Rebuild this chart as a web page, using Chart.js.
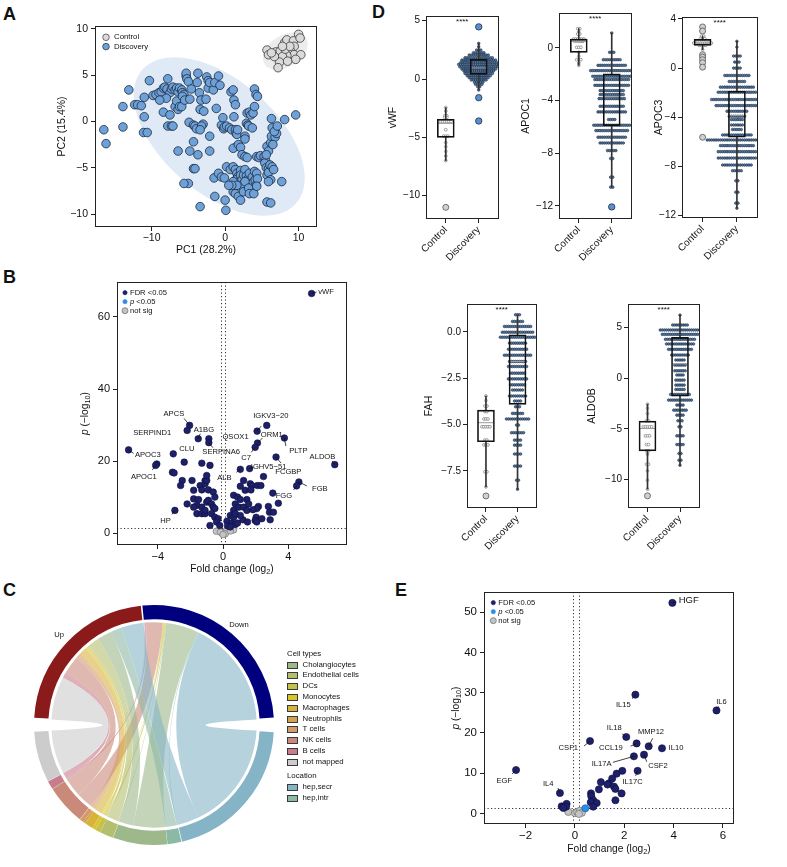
<!DOCTYPE html>
<html>
<head>
<meta charset="utf-8">
<title>Figure</title>
<script src="https://cdn.jsdelivr.net/npm/chart.js@4.4.1/dist/chart.umd.min.js"></script>
<style>
  html, body { margin: 0; padding: 0; background: #fff; }
  #fig { position: relative; width: 787px; height: 867px; overflow: hidden;
         font-family: "Liberation Sans", Arial, Helvetica, sans-serif; color: #111; }
  #fig canvas { position: absolute; }
  .panel { position: absolute; font-size: 18px; font-weight: bold; line-height: 18px; }
</style>
</head>
<body>
<div id="fig">
  <div class="panel" style="left:3px;top:5px">A</div>
  <div class="panel" style="left:3px;top:268px">B</div>
  <div class="panel" style="left:3px;top:581px">C</div>
  <div class="panel" style="left:372px;top:3px">D</div>
  <div class="panel" style="left:395px;top:581px">E</div>
  <canvas id="cA"></canvas>
  <canvas id="cB"></canvas>
  <canvas id="cC"></canvas>
  <canvas id="cD1"></canvas>
  <canvas id="cD2"></canvas>
  <canvas id="cD3"></canvas>
  <canvas id="cD4"></canvas>
  <canvas id="cD5"></canvas>
  <canvas id="cE"></canvas>
</div>
<script>
// ---------- A: PCA ----------
var ctrlPC1 = [5.7, 5.9, 6.9, 7.5, 8.1, 8.4, 9.3, 10.0, 10.2, 9.4, 8.9, 9.4, 10.3, 9.6, 8.4, 7.8, 7.4, 7.2, 8.2, 8.8, 7.8, 6.7, 6.3, 8.5];
var ctrlPC2 = [7.7, 7.2, 7.5, 7.6, 8.5, 8.8, 8.7, 9.4, 9.0, 8.1, 7.6, 7.2, 7.2, 6.7, 7.1, 7.0, 6.4, 5.8, 7.8, 8.1, 8.1, 7.0, 7.4, 6.5];
var discPC1 = [-16.5,-16.2,-13.9,-13.9,-13.1,-12.3,-11.9,-11.4,-11.0,-11.0,-11.1,-10.6,-10.3,-9.8,-9.4,-9.0,-8.7,-8.4,-8.2,-7.9,
  -7.8,-7.5,-7.3,-7.1,-6.8,-6.6,-6.4,-6.2,-5.9,-5.8,-5.6,-8.0,-8.9,-8.4,-7.5,-7.8,-7.3,-7.1,-6.8,-6.6,
  -6.4,-6.2,-5.9,-5.8,-5.5,-5.3,-5.3,-5.2,-5.0,-4.8,-4.9,-4.6,-4.3,-4.1,-3.9,-3.8,-3.7,-3.5,-3.4,-3.3,
  -3.0,-2.9,-2.6,-3.2,-3.4,-4.3,-3.7,-4.8,-6.4,-4.3,-4.1,-5.0,-5.6,-2.5,-2.3,-2.3,-2.1,-1.6,-1.4,-1.2,
  -0.9,-0.7,-0.5,-0.3,-0.2,-0.1,0.2,0.6,0.8,0.9,1.1,1.2,1.4,1.2,1.4,1.5,1.6,1.6,1.1,1.7,
  1.8,2.1,2.3,2.7,2.9,3.0,3.1,3.2,3.3,3.5,3.7,3.8,4.0,4.0,4.2,4.4,2.7,2.7,3.0,-2.1,
  -2.1,-3.4,-1.5,-1.4,-0.9,-0.5,0.0,0.1,0.2,-0.1,0.7,1.1,1.4,1.6,1.7,1.5,1.8,2.1,2.1,2.3,
  2.4,2.5,2.7,2.9,3.0,3.1,3.3,3.4,3.7,3.8,3.9,4.0,4.1,4.2,4.3,4.4,1.1,1.1,1.4,1.8,
  2.1,2.3,2.5,2.7,1.6,0.9,0.5,3.2,3.3,3.9,4.3,4.3,4.6,4.8,5.3,5.5,5.4,5.6,5.9,5.7,
  5.9,6.1,6.2,6.4,6.6,5.7,5.9,6.2,6.3,6.4,6.3,6.8,7.0,6.5,6.7,7.1,7.7,5.7,6.2,8.1,
  9.6,5.9,5.6];
var discPC2 = [-0.9,-2.4,-0.6,1.6,3.4,1.8,1.8,1.7,2.6,0.5,-1.2,-1.2,4.4,2.8,2.9,3.1,3.2,3.6,3.7,3.5,
  4.6,3.1,3.5,3.7,3.4,3.6,3.2,3.6,3.4,3.1,2.9,2.5,2.3,1.0,0.7,-0.5,-0.5,-0.5,1.6,2.2,
  1.3,1.6,1.6,2.7,2.3,4.9,5.2,4.6,4.3,2.4,-0.1,3.5,-0.4,-0.5,-0.8,4.2,5.2,3.1,1.3,2.3,
  -0.3,1.1,2.4,-0.5,-0.9,-2.2,-3.6,-3.2,-3.2,-5.1,-5.1,-6.7,-6.7,4.8,4.4,3.6,4.2,3.4,4.2,1.4,
  4.9,3.9,-0.4,0.4,-0.8,-0.6,-0.5,-0.7,3.2,-0.9,3.4,2.3,1.8,0.5,-0.9,-1.3,-1.4,-2.7,-2.9,-0.9,
  -2.5,-2.8,-3.6,-1.6,-0.2,0.9,-0.4,-0.5,1.0,0.7,-0.7,0.9,3.5,1.6,2.9,2.7,-1.9,-3.8,-3.9,-1.6,
  -3.2,-9.2,-6.1,-8.1,-5.6,-6.0,-8.5,-9.6,-4.9,-6.1,-5.2,-4.9,-5.2,-5.6,-6.0,-6.3,-6.6,-5.3,-5.8,-6.3,
  -6.8,-5.8,-5.2,-5.9,-6.3,-6.6,-5.6,-6.5,-6.0,-6.6,-7.1,-5.4,-6.3,-6.9,-5.6,-6.2,-6.5,-7.6,-7.8,-8.1,
  -8.5,-7.0,-7.6,-6.5,-6.9,-6.9,-6.9,-7.2,-7.8,-7.8,-7.0,-3.8,-3.9,-3.7,-3.8,-4.2,-4.5,-5.0,-5.1,-5.8,
  -5.5,-4.7,-6.3,-4.9,-5.2,-2.7,-3.2,-2.3,-1.6,-0.7,0.3,-1.7,-1.3,-2.5,-1.1,-0.5,-6.5,-8.7,-8.8,0.2,
  0.7,-6.5,-3.6];
var pcTicksX = [-10, 0, 10];
var pcTicksY = [-10, -5, 0, 5, 10];

// ---------- B: volcano, proteins ----------
var bFdrNames = ['vWF','ALDOB','APOC3','APOC1','APCS','SERPIND1','CLU','A1BG','QSOX1','SERPINA6','IGKV3\u221220','ORM1','C7','PLTP','FCGBP','IGHV5\u221251','ALB','FGB','FGG','HP'];
var bFdrFC = [5.43,6.85,-5.79,-4.06,-2.05,-2.2,-3.05,-1.52,-0.87,-0.87,2.09,2.11,1.97,3.76,3.25,1.63,1.06,4.65,4.51,-2.95,
  2.68,-4.13,-2.38,3.39,3.05,2.48,
  -3.1,-3.0,-2.5,-2.6,-1.9,-1.3,-0.8,-1.4,-1.1,-1.1,-1.0,-1.0,-1.8,-1.6,-1.3,-0.9,-0.6,-0.5,-1.8,-1.5,-1.3,-1.0,-0.9,-0.7,
  -0.6,-0.5,-1.6,-1.3,-1.1,-0.7,-0.5,-0.3,-0.4,-0.8,-0.2,-1.1,-2.2,-1.8,
  0.65,0.89,1.06,0.75,0.96,0.65,1.26,1.46,1.57,1.26,1.36,1.06,1.67,1.77,2.11,2.32,2.17,2.07,2.03,1.97,
  2.38,2.78,2.85,3.09,2.89,0.45,0.65,0.24,0.55,0.75,0.89,1.22,1.5,0.28,0.45,1.46,1.83,1.71,0.75,1.06,2.07];
var bFdrP = [66.5,19.0,23.1,19.2,29.9,28.5,22.0,26.2,26.2,25.1,28.3,25.0,23.8,26.4,21.1,17.9,17.7,14.2,13.1,6.3,
  29.9,18.8,19.7,8.3,11.1,15.7,
  16.9,16.7,14.6,13.2,14.6,19.4,18.8,13.2,14.6,13.7,14.6,16.0,11.9,7.7,12.0,12.0,11.4,10.0,9.5,9.3,7.2,8.6,9.1,8.1,
  7.2,6.8,5.4,5.4,5.4,5.4,4.4,4.0,3.1,2.1,2.1,6.3,8.1,7.2,
  10.5,10.0,9.3,8.1,7.2,6.3,7.2,9.3,8.1,14.6,11.9,13.0,13.7,13.2,13.2,13.2,7.4,6.8,4.4,3.5,
  4.0,7.4,5.8,5.8,3.7,4.9,4.4,3.3,2.8,2.4,2.8,3.7,3.1,2.0,1.7,6.3,6.5,12.0,5.4,4.9,3.1];
var bNsFC = [-0.41,-0.06,0.04,0.24,0.65,-0.16,0.14,0.45,0.0];
var bNsP = [0.5,0.0,0.2,0.9,0.9,0.3,-0.2,0.6,-0.4];
var volTicksB = { x: [-4, 0, 4], y: [0, 20, 40, 60] };

// ---------- C: chord ----------
var locationNames = ['hep,secr', 'hep,intr'];
var cellTypeNames = ['Cholangiocytes','Endothelial cells','DCs','Monocytes','Macrophages','Neutrophils','T cells','NK cells','B cells','not mapped'];
var chordTargets = locationNames.concat(cellTypeNames);
var upCounts   = [24, 12, 16, 12, 3, 2, 8, 2, 4, 20, 6, 47];
var downCounts = [118, 1, 35, 1, 2, 1, 0, 0, 0, 18, 2, 1];

// ---------- D: box plots ----------
var groupNames = ['Control', 'Discovery'];
// box stats: [lower whisker, q1, median, q3, upper whisker]
var vwfCtrlLevels = [-2.45,-2.75,-3.15,-3.3,-3.65,-4.35,-4.9,-5.45,-5.8,-6.2,-6.6,-7.0];
var vwfCtrlCounts = [1,1,2,2,6,1,3,1,1,1,1,1];
var vwfCtrlOut = [-11.0];
var vwfCtrlBox = [-7.0,-5.0,-3.8,-3.45,-2.45];
var vwfDiscLevels = [3.05,2.76,2.48,2.25,2.05,1.82,1.62,1.42,1.25,1.05,0.85,0.68,0.48,0.28,0.11,-0.09,-0.28,-0.46,-0.66,-0.94];
var vwfDiscCounts = [1,1,3,6,10,14,17,18,20,19,17,15,14,12,10,8,5,4,2,1];
var vwfDiscOut = [4.47,-1.6,-3.6];
var vwfDiscBox = [-0.94,0.4,0.95,1.68,3.05];
var vwfTicks = [-10,-5,0,5];

var apoc1CtrlLevels = [1.47,1.22,1.06,0.68,0.51,0.05,-0.33,-0.63,-0.89,-1.14,-1.32];
var apoc1CtrlCounts = [2,1,2,6,5,3,1,1,3,1,1];
var apoc1CtrlOut = [];
var apoc1CtrlBox = [-1.32,-0.33,0.5,0.68,1.47];
var apoc1DiscLevels = [1.14,-0.33,-0.89,-1.32,-1.72,-2.15,-2.4,-2.84,-3.24,-3.54,-3.85,-4.43,-4.86,-5.44,-5.87,-6.28,-6.78,-7.22,-7.8,-8.4,-9.82,-10.58];
var apoc1DiscCounts = [1,3,9,14,21,19,17,17,12,12,13,12,14,4,18,16,14,12,5,2,2,2];
var apoc1DiscOut = [-12.08];
var apoc1DiscBox = [-10.58,-5.9,-3.7,-1.97,1.14];
var apoc1Ticks = [-12,-8,-4,0];

var apoc3CtrlLevels = [2.61,2.39,2.04,1.85,1.5];
var apoc3CtrlCounts = [2,3,9,4,1];
var apoc3CtrlOut = [3.35,3.02,1.09,0.9,0.68,0.44,0.08,-5.63];
var apoc3CtrlBox = [1.5,1.85,2.04,2.34,2.61];
var apoc3DiscLevels = [2.18,1.71,0.98,0.49,0.0,-0.6,-1.09,-1.55,-1.96,-2.56,-3.05,-3.51,-3.92,-4.19,-4.63,-5.0,-5.44,-5.85,-6.31,-6.8,-7.32,-7.89,-8.35,-9.17,-10.1,-10.99,-11.4];
var apoc3DiscCounts = [1,1,4,3,4,12,8,16,18,24,20,10,8,6,6,5,14,28,16,18,18,14,5,2,2,2,1];
var apoc3DiscOut = [];
var apoc3DiscBox = [-11.4,-5.63,-3.85,-1.88,2.18];
var apoc3Ticks = [-12,-8,-4,0,4];

var fahCtrlLevels = [-3.46,-3.7,-4.0,-4.3,-4.7,-5.12,-5.84,-6.1,-7.55,-8.36];
var fahCtrlCounts = [1,1,2,2,3,5,2,3,2,1];
var fahCtrlOut = [-8.85];
var fahCtrlBox = [-8.36,-5.93,-4.9,-4.22,-3.46];
var fahDiscLevels = [0.92,0.56,0.29,-0.02,-0.29,-0.61,-0.94,-1.26,-1.6,-1.87,-2.23,-2.54,-2.86,-3.14,-3.46,-3.73,-4.04,-4.4,-4.7,-5.03,-5.44,-5.84,-6.11,-6.59,-7.24,-8.0,-8.49];
var fahDiscCounts = [3,6,14,16,18,9,10,14,9,10,8,10,8,6,9,4,3,6,12,2,7,4,4,4,4,2,1];
var fahDiscOut = [];
var fahDiscBox = [-8.49,-3.91,-1.6,-0.16,0.92];
var fahTicks = [-7.5,-5,-2.5,0];

var aldobCtrlLevels = [-2.57,-2.99,-3.49,-4.21,-4.8,-5.69,-6.55,-7.17,-7.5,-8.49,-9.14,-10.07,-10.95];
var aldobCtrlCounts = [1,1,1,2,5,3,2,2,1,2,1,1,1];
var aldobCtrlOut = [-11.6];
var aldobCtrlBox = [-10.95,-7.17,-4.97,-4.24,-2.57];
var aldobDiscLevels = [6.2,5.23,4.74,4.31,3.82,3.36,2.83,2.27,1.78,1.28,0.72,0.3,-0.2,-0.69,-1.12,-1.61,-2.17,-2.66,-3.16,-3.65,-4.21,-4.8,-5.69,-6.55,-7.43,-8.09,-8.59];
var aldobDiscCounts = [1,8,20,18,15,14,12,9,5,6,6,4,5,5,5,10,12,4,7,4,3,2,4,4,2,2,1];
var aldobDiscOut = [];
var aldobDiscBox = [-8.59,-1.78,1.4,4.01,6.2];
var aldobTicks = [-10,-5,0,5];

// ---------- E: volcano, cytokines ----------
var eFdrNames = ['HGF','IL6','IL15','IL18','CCL19','MMP12','IL10','CSF1','IL17A','CSF2','IL17C','EGF','IL4'];
var eFdrFC = [3.95,5.74,2.45,2.08,2.5,2.99,3.53,0.61,2.39,2.8,2.54,-2.39,-0.61,
  1.92,1.69,1.51,1.05,1.38,1.32,1.58,1.64,0.97,1.89,0.65,0.66,0.74,0.64,0.88,1.64,0.74,-0.54,-0.34,-0.36,-0.47];
var eFdrP = [52.3,25.6,29.5,19.0,17.4,16.7,16.2,18.0,14.2,14.6,10.6,10.8,5.1,
  10.6,9.9,8.7,7.8,7.5,7.2,6.7,6.1,6.0,5.0,5.0,4.3,3.3,2.8,2.6,3.3,1.7,1.8,2.4,1.7,1.4];
var ePFC = [0.42];
var ePP = [1.3];
var eNsFC = [-0.27,0.0,0.09,0.2,0.28,0.16];
var eNsP = [0.4,0.1,0.4,0.7,0.2,-0.1];
var volTicksE = { x: [-2, 0, 2, 4, 6], y: [0, 10, 20, 30, 40, 50] };

// ================= drawing =================
Chart.defaults.font.family = '"Liberation Sans", Arial, Helvetica, sans-serif';
Chart.defaults.color = '#111';
Chart.defaults.animation = false;
Chart.defaults.responsive = false;
Chart.defaults.plugins.legend.display = false;
Chart.defaults.plugins.tooltip.enabled = false;
var FAM = Chart.defaults.font.family;
var NAVY = '#1e2069';

function minus(s) { return String(s).replace('-', '\u2212'); }
function pts(xs, ys) { return xs.map(function (x, i) { return { x: x, y: ys[i] }; }); }
function sum(a) { return a.reduce(function (s, v) { return s + v; }, 0); }
function hexA(h, a) {
  var n = parseInt(h.slice(1), 16);
  return 'rgba(' + (n >> 16) + ',' + ((n >> 8) & 255) + ',' + (n & 255) + ',' + a + ')';
}

// place a canvas on the page and return padding / axis sizes that pin the plot area
function setBox(id, l, t, w, h, area) {
  var c = document.getElementById(id);
  c.width = w; c.height = h;
  c.style.left = l + 'px'; c.style.top = t + 'px';
  if (!area) return { cv: c };
  return {
    cv: c,
    padding: { top: area[1] - t, right: l + w - area[2], left: 0, bottom: 0 },
    yW: area[0] - l,
    xH: t + h - area[3]
  };
}

function axis(o) {
  return {
    type: 'linear', min: o.min, max: o.max, offset: false,
    afterBuildTicks: function (s) { s.ticks = o.ticks.map(function (v) { return { value: v }; }); },
    afterFit: function (s) {
      if (s.isHorizontal()) { s.height = o.size; s.paddingLeft = 0; s.paddingRight = 0; }
      else { s.width = o.size; s.paddingTop = 0; s.paddingBottom = 0; }
    },
    grid: { drawOnChartArea: false, offset: false, color: '#222', tickLength: o.tl || 4, tickWidth: 1 },
    border: { display: false },
    ticks: {
      font: { size: o.font || 10 }, padding: o.pad === undefined ? 3 : o.pad, autoSkip: false,
      maxRotation: o.rot || 0, minRotation: o.rot || 0,
      callback: o.fmt || function (v) { return minus(v); }
    },
    title: o.title ? { display: true, text: o.title, font: { size: 10.5 }, padding: 0, color: '#111' } : { display: false }
  };
}

function richText(ctx, parts, x, y, size, align, rot) {
  function f(st) { return (st === 'i' ? 'italic ' : '') + (st === 'sub' ? size * 0.72 : size) + 'px ' + FAM; }
  ctx.save();
  ctx.translate(x, y);
  if (rot) ctx.rotate(rot);
  ctx.textBaseline = 'middle'; ctx.textAlign = 'left'; ctx.fillStyle = '#111';
  var w = 0;
  parts.forEach(function (p) { ctx.font = f(p[1]); w += ctx.measureText(p[0]).width; });
  var cx = align === 'center' ? -w / 2 : 0;
  parts.forEach(function (p) {
    ctx.font = f(p[1]);
    ctx.fillText(p[0], cx, p[1] === 'sub' ? size * 0.32 : 0);
    cx += ctx.measureText(p[0]).width;
  });
  ctx.restore();
}

var framePlugin = {
  id: 'frame',
  afterDraw: function (c) {
    var a = c.chartArea, ctx = c.ctx;
    ctx.save(); ctx.strokeStyle = '#222'; ctx.lineWidth = 1;
    ctx.strokeRect(Math.round(a.left) + 0.5, Math.round(a.top) + 0.5, Math.round(a.right - a.left) - 1, Math.round(a.bottom - a.top) - 1);
    ctx.restore();
  }
};

var inLegendPlugin = {
  id: 'inLegend',
  afterDraw: function (chart, args, o) {
    if (!o.items) return;
    var ctx = chart.ctx, a = chart.chartArea;
    o.items.forEach(function (it, i) {
      var x = a.left + o.x, y = a.top + o.y + i * o.dy;
      ctx.beginPath(); ctx.arc(x, y, it.r, 0, Math.PI * 2);
      ctx.fillStyle = it.fill; ctx.fill();
      ctx.lineWidth = 0.7; ctx.strokeStyle = it.stroke; ctx.stroke();
      richText(ctx, it.parts, x + o.tx, y, o.size, 'left');
    });
  }
};

var refLinePlugin = {
  id: 'refLines',
  beforeDatasetsDraw: function (chart, args, o) {
    if (!o.h) return;
    var ctx = chart.ctx, a = chart.chartArea, sx = chart.scales.x, sy = chart.scales.y;
    ctx.save(); ctx.strokeStyle = '#333'; ctx.lineWidth = 1; ctx.setLineDash([1.2, 2.3]);
    o.h.forEach(function (v) { var y = Math.round(sy.getPixelForValue(v)) + 0.5; ctx.beginPath(); ctx.moveTo(a.left, y); ctx.lineTo(a.right, y); ctx.stroke(); });
    o.v.forEach(function (v) { var x = Math.round(sx.getPixelForValue(v)) + 0.5; ctx.beginPath(); ctx.moveTo(x, a.top); ctx.lineTo(x, a.bottom); ctx.stroke(); });
    ctx.restore();
  }
};

var labelPlugin = {
  id: 'pointLabels',
  afterDatasetsDraw: function (chart, args, o) {
    if (!o.pos) return;
    var ctx = chart.ctx;
    chart.data.datasets.forEach(function (ds, di) {
      if (!ds.names) return;
      chart.getDatasetMeta(di).data.forEach(function (el, i) {
        var p = o.pos[ds.names[i]];
        if (!p) return;
        ctx.save();
        if (p[3] !== null) {
          ctx.beginPath(); ctx.moveTo(el.x, el.y); ctx.lineTo(el.x + p[3], el.y + p[4]);
          ctx.strokeStyle = '#111'; ctx.lineWidth = 0.8; ctx.stroke();
        }
        ctx.font = (p[5] || o.size) + 'px ' + FAM; ctx.fillStyle = '#111';
        ctx.textAlign = p[2]; ctx.textBaseline = 'middle';
        ctx.fillText(ds.names[i], el.x + p[0], el.y + p[1]);
        ctx.restore();
      });
    });
  }
};

var titlePlugin = {
  id: 'richTitles',
  afterDraw: function (chart, args, o) {
    if (!o.x) return;
    var a = chart.chartArea, ctx = chart.ctx;
    richText(ctx, o.x.parts, (a.left + a.right) / 2, a.bottom + o.x.off, o.size, 'center');
    richText(ctx, o.y.parts, a.left - o.y.off, (a.top + a.bottom) / 2, o.size, 'center', -Math.PI / 2);
  }
};

// confidence ellipse computed from the points of a dataset
var ellipsePlugin = {
  id: 'ellipses',
  beforeDatasetsDraw: function (chart, args, o) {
    if (!o.sets) return;
    var ctx = chart.ctx, sx = chart.scales.x, sy = chart.scales.y;
    o.sets.forEach(function (e) {
      var xs = e.xs, ys = e.ys, n = xs.length;
      var mx = sum(xs) / n, my = sum(ys) / n, sxx = 0, syy = 0, sxy = 0;
      for (var i = 0; i < n; i++) { var dx = xs[i] - mx, dy = ys[i] - my; sxx += dx * dx; syy += dy * dy; sxy += dx * dy; }
      sxx /= n - 1; syy /= n - 1; sxy /= n - 1;
      var tr = sxx + syy, det = sxx * syy - sxy * sxy;
      var l1 = tr / 2 + Math.sqrt(tr * tr / 4 - det), l2 = tr / 2 - Math.sqrt(tr * tr / 4 - det);
      var ang = Math.atan2(l1 - sxx, sxy);
      var A = e.k * Math.sqrt(l1), B = e.k * Math.sqrt(Math.max(l2, 0));
      ctx.save(); ctx.beginPath();
      for (var t = 0; t <= 120; t++) {
        var th = t / 120 * Math.PI * 2;
        var px = mx + A * Math.cos(th) * Math.cos(ang) - B * Math.sin(th) * Math.sin(ang);
        var py = my + A * Math.cos(th) * Math.sin(ang) + B * Math.sin(th) * Math.cos(ang);
        var X = sx.getPixelForValue(px), Y = sy.getPixelForValue(py);
        if (t === 0) ctx.moveTo(X, Y); else ctx.lineTo(X, Y);
      }
      ctx.closePath(); ctx.fillStyle = e.fill; ctx.fill(); ctx.restore();
    });
  }
};

// ---- A ----
(function () {
  var L = setBox('cA', 56, 10, 274, 246, [95, 26, 317, 227]);
  new Chart(L.cv, {
    type: 'scatter',
    data: { datasets: [
      { data: pts(ctrlPC1, ctrlPC2), backgroundColor: '#dadada', borderColor: '#3a3a3a', borderWidth: 0.8, pointRadius: 4.3 },
      { data: pts(discPC1, discPC2), backgroundColor: '#6fa1d9', borderColor: '#1b2a3c', borderWidth: 0.8, pointRadius: 4.3 }
    ] },
    options: {
      layout: { padding: L.padding },
      scales: {
        x: axis({ min: -17.7, max: 12.5, ticks: pcTicksX, size: L.xH, title: 'PC1 (28.2%)', pad: 1, font: 10.5 }),
        y: axis({ min: -11.4, max: 10.3, ticks: pcTicksY, size: L.yW, title: 'PC2 (15.4%)', font: 10.5 })
      },
      plugins: {
        ellipses: { sets: [
          { xs: discPC1, ys: discPC2, k: 2.12, fill: '#dfeaf6' },
          { xs: ctrlPC1, ys: ctrlPC2, k: 2.3, fill: '#ececec' }
        ] },
        inLegend: { x: 11, y: 11.3, dy: 9.3, tx: 8, size: 7.8, items: [
          { parts: [['Control', '']], r: 3.3, fill: '#dadada', stroke: '#3a3a3a' },
          { parts: [['Discovery', '']], r: 3.3, fill: '#6fa1d9', stroke: '#1b2a3c' }
        ] }
      }
    },
    plugins: [ellipsePlugin, framePlugin, inLegendPlugin]
  });
})();

// ---- volcano factory (B, E) ----
function volcano(L, sets, o) {
  return new Chart(L.cv, {
    type: 'scatter',
    data: { datasets: sets },
    options: {
      layout: { padding: L.padding },
      scales: {
        x: axis({ min: o.x[0], max: o.x[1], ticks: o.ticks.x, size: L.xH, font: o.font, pad: 1 }),
        y: axis({ min: o.y[0], max: o.y[1], ticks: o.ticks.y, size: L.yW, font: o.font })
      },
      plugins: {
        refLines: { h: [1.3], v: [-0.1, 0.15] },
        pointLabels: { pos: o.labels, size: 7.6 },
        richTitles: { size: 10.2,
          x: { parts: [['Fold change (log', ''], ['2', 'sub'], [')', '']], off: o.xOff },
          y: { parts: [['p', 'i'], [' (\u2212log', ''], ['10', 'sub'], [')', '']], off: o.yOff } },
        inLegend: { x: o.leg[0], y: o.leg[1], dy: 9, tx: 5, size: 7.6, items: [
          { parts: [['FDR <0.05', '']], r: 2.1, fill: NAVY, stroke: NAVY },
          { parts: [['p', 'i'], [' <0.05', '']], r: 2.1, fill: '#2b8de8', stroke: '#2b8de8' },
          { parts: [['not sig', '']], r: 3.0, fill: '#c4c4c4', stroke: '#666' }
        ] }
      }
    },
    plugins: [refLinePlugin, framePlugin, labelPlugin, titlePlugin, inLegendPlugin]
  });
}

// label layout: [text dx, text dy, align, line end dx, line end dy, font size]
var bLabelPos = {
  'vWF': [6.7, -2, 'left', 5, -1.5],
  'ALDOB': [-12.3, -8, 'center', -2.5, -3.5],
  'APOC3': [6.3, 4.7, 'left', 5, 3.5],
  'APOC1': [-13, 13, 'center', -4.5, 6],
  'APCS': [-15.7, -11.7, 'center', -5.5, -7],
  'SERPIND1': [-35, 2.7, 'center', null, null],
  'CLU': [13.5, -4.5, 'center', null, null],
  'A1BG': [5.7, -9.3, 'center', 2, -5],
  'QSOX1': [26.7, -1.7, 'center', null, null],
  'SERPINA6': [12.3, 9.3, 'center', 4, 5],
  'IGKV3\u221220': [13.7, -15, 'center', 4, -5],
  'ORM1': [14.3, -7.7, 'center', 5, -5],
  'C7': [-9, 10.3, 'center', -4, 5],
  'PLTP': [14, 13, 'center', 1.5, 8],
  'FCGBP': [12.3, 15, 'center', 5, 6],
  'IGHV5\u221251': [19, -1.7, 'center', 4, -1],
  'ALB': [-16, 8.7, 'center', -4, 3],
  'FGB': [21, 6.7, 'center', 8, 4],
  'FGG': [-12.7, 10, 'center', -3, 4],
  'HP': [-9.3, 10.7, 'center', -3, 4]
};
var eLabelPos = {
  'HGF': [6.3, -2.3, 'left', 4, -1, 9.5],
  'IL6': [5, -8.7, 'center', 2, -4],
  'IL15': [-12, 10.3, 'center', -3, 4],
  'IL18': [-12, -8.7, 'center', -4, -3],
  'MMP12': [2.3, -14, 'center', 4, -8],
  'CCL19': [-25.7, 4.3, 'center', -6, 2.7],
  'IL10': [14, 0, 'center', null, null],
  'CSF1': [-21.7, 6.7, 'center', -6, 5],
  'IL17A': [-32.3, 7.3, 'center', -21, 6],
  'CSF2': [14, 10.7, 'center', 2.7, 7],
  'IL17C': [-5, 11, 'center', -2, 5],
  'EGF': [-11.7, 10.7, 'center', -4, 4],
  'IL4': [-11.7, -9.3, 'center', -2, -5]
};

// ---- B ----
volcano(setBox('cB', 79, 270, 276, 305, [117, 282, 347, 545]), [
  { data: pts(bFdrFC, bFdrP), names: bFdrNames, backgroundColor: NAVY, borderColor: '#0c0e3e', borderWidth: 0.6, pointRadius: 3.3 },
  { data: pts(bNsFC, bNsP), backgroundColor: '#c4c4c4', borderColor: '#666', borderWidth: 0.6, pointRadius: 3.3 }
], { x: [-6.5, 7.6], y: [-3.3, 69.7], ticks: volTicksB, font: 11, labels: bLabelPos, xOff: 24, yOff: 32, leg: [8, 10.7] });

// ---- E ----
volcano(setBox('cE', 450, 580, 295, 275, [484, 592, 734, 824]), [
  { data: pts(eFdrFC, eFdrP), names: eFdrNames, backgroundColor: NAVY, borderColor: '#0c0e3e', borderWidth: 0.6, pointRadius: 3.6 },
  { data: pts(ePFC, ePP), backgroundColor: '#2b8de8', borderColor: '#1b5a9a', borderWidth: 0.6, pointRadius: 3.6 },
  { data: pts(eNsFC, eNsP), backgroundColor: '#c4c4c4', borderColor: '#666', borderWidth: 0.6, pointRadius: 3.6 }
], { x: [-3.69, 6.45], y: [-2.6, 55], ticks: volTicksE, font: 11.5, labels: eLabelPos, xOff: 25, yOff: 28, leg: [9.3, 10.7] });

// ---- C: chord diagram (ring = doughnut, ribbons from arc geometry) ----
(function () {
  var ringColors = ['#8b1a1a', '#00007f'];
  var locationColors = ['#84b4c6', '#8cb8a6'];
  var cellTypeColors = ['#9db88a', '#b4be6e', '#c8c04c', '#d9c52a', '#d8b33c', '#d2a24e', '#d49a6c', '#c98a7a', '#c97c8c', '#cccccc'];
  var targetColors = locationColors.concat(cellTypeColors);
  var GAP = 12;
  var vals = [sum(upCounts), sum(downCounts), GAP]
    .concat(chordTargets.map(function (t, j) { return upCounts[j] + downCounts[j]; }), [GAP]);
  var cols = ringColors.concat(['rgba(0,0,0,0)'], targetColors, ['rgba(0,0,0,0)']);
  var gapDeg = GAP / sum(vals) * 360;
  var CX0 = 29, CY0 = 600; // canvas origin on the page

  var chordPlugin = {
    id: 'chords',
    afterDatasetsDraw: function (chart) {
      var ctx = chart.ctx, arcs = chart.getDatasetMeta(0).data;
      var cx = arcs[0].x, cy = arcs[0].y, r = arcs[0].innerRadius - 2;
      var rows = [upCounts, downCounts], T0 = 3;
      var sp = [[], []], tp = [[], []];
      rows.forEach(function (row, s) {
        var a = arcs[s].startAngle, k = (arcs[s].endAngle - arcs[s].startAngle) / sum(row);
        for (var j = row.length - 1; j >= 0; j--) { sp[s][j] = [a, a + row[j] * k]; a += row[j] * k; }
      });
      chordTargets.forEach(function (t, j) {
        var arc = arcs[T0 + j], a = arc.startAngle;
        var k = (arc.endAngle - arc.startAngle) / (upCounts[j] + downCounts[j]);
        [1, 0].forEach(function (s) { var w = rows[s][j] * k; tp[s][j] = [a, a + w]; a += w; });
      });
      ctx.save();
      [1, 0].forEach(function (s) {
        chordTargets.forEach(function (t, j) {
          if (!rows[s][j]) return;
          var s0 = sp[s][j][0], s1 = sp[s][j][1], t0 = tp[s][j][0], t1 = tp[s][j][1];
          ctx.beginPath();
          ctx.arc(cx, cy, r, s0, s1);
          ctx.quadraticCurveTo(cx, cy, cx + r * Math.cos(t0), cy + r * Math.sin(t0));
          ctx.arc(cx, cy, r, t0, t1);
          ctx.quadraticCurveTo(cx, cy, cx + r * Math.cos(s0), cy + r * Math.sin(s0));
          ctx.closePath();
          ctx.fillStyle = hexA(targetColors[j], 0.6);
          ctx.fill();
        });
      });
      // group labels
      ctx.font = '7.6px ' + FAM; ctx.fillStyle = '#111'; ctx.textAlign = 'center'; ctx.textBaseline = 'middle';
      ['Up', 'Down'].forEach(function (txt, s) {
        var m = (arcs[s].startAngle + arcs[s].endAngle) / 2, R = arcs[s].outerRadius + 12;
        ctx.fillText(txt, cx + R * Math.cos(m), cy + R * Math.sin(m));
      });
      ctx.restore();
    }
  };

  // legend (cell types + location) drawn beside the ring
  var keyPlugin = {
    id: 'chordKey',
    afterDraw: function (chart) {
      var ctx = chart.ctx;
      ctx.save();
      ctx.font = '7.8px ' + FAM; ctx.textAlign = 'left'; ctx.textBaseline = 'middle';
      function text(t, x, y) { ctx.fillStyle = '#111'; ctx.fillText(t, x - CX0, y - CY0); }
      function swatch(col, x, y) {
        ctx.fillStyle = col; ctx.fillRect(x - CX0, y - CY0 - 3, 10, 6);
        ctx.strokeStyle = '#3a3a3a'; ctx.lineWidth = 1; ctx.strokeRect(x - CX0 + 0.5, y - CY0 - 3 + 0.5, 10, 6);
      }
      text('Cell types', 287, 654);
      cellTypeNames.forEach(function (n, i) { var y = Math.round(664.5 + i * 10.8); swatch(cellTypeColors[i], 287, y); text(n, 302.5, y); });
      text('Location', 287, 776);
      locationNames.forEach(function (n, i) { var y = Math.round(787.3 + i * 10.8); swatch(locationColors[i], 287, y); text(n, 302.5, y); });
      ctx.restore();
    }
  };

  var cv = setBox('cC', CX0, CY0, 370, 250).cv;
  new Chart(cv, {
    type: 'doughnut',
    data: { labels: ['Up', 'Down', ''].concat(chordTargets, ['']),
      datasets: [{ data: vals, backgroundColor: cols, borderWidth: 0, spacing: 2 }] },
    options: { layout: { padding: { left: 5, top: 5, bottom: 5, right: 125 } }, cutout: '88%', rotation: 270 + gapDeg / 2 },
    plugins: [chordPlugin, keyPlugin]
  });
})();

// ---- D: box + dot plots ----
var DOT_STEP = 0.064;
function dotRows(g, levels, counts) {
  var out = [];
  levels.forEach(function (v, i) {
    var n = counts[i];
    for (var k = 0; k < n; k++) out.push({ x: g + (k - (n - 1) / 2) * DOT_STEP, y: v });
  });
  return out;
}
var starsPlugin = {
  id: 'stars',
  afterDraw: function (chart) {
    var a = chart.chartArea, ctx = chart.ctx;
    ctx.save(); ctx.font = '8px ' + FAM; ctx.fillStyle = '#111'; ctx.textAlign = 'center'; ctx.textBaseline = 'middle';
    ctx.fillText('****', (a.left + a.right) / 2, a.top + 6);
    ctx.restore();
  }
};
function boxPlot(id, box, area, g) {
  var L = setBox(id, box[0], box[1], box[2], box[3], area);
  var cb = g.ctrlBox, db = g.discBox;
  var ds = [
    { type: 'bar', data: [{ x: 1, y: [cb[1], cb[3]] }, { x: 2, y: [db[1], db[3]] }], backgroundColor: 'rgba(0,0,0,0)',
      borderColor: '#111', borderWidth: 1, borderSkipped: false, barThickness: 17, grouped: false },
    { type: 'scatter', data: [{ x: 1, y: cb[2] }, { x: 2, y: db[2] }], pointStyle: 'line', pointRadius: 8.5,
      borderColor: '#9a9a9a', borderWidth: 1 },
    { type: 'bar', data: [{ x: 1, y: [cb[0], cb[1]] }, { x: 2, y: [db[0], db[1]] }], backgroundColor: '#333', barThickness: 1, grouped: false },
    { type: 'bar', data: [{ x: 1, y: [cb[3], cb[4]] }, { x: 2, y: [db[3], db[4]] }], backgroundColor: '#333', barThickness: 1, grouped: false },
    { type: 'scatter', data: g.ctrlOut.map(function (v) { return { x: 1, y: v }; }), pointRadius: 3, backgroundColor: '#d0d0d0', borderColor: '#555', borderWidth: 0.8 },
    { type: 'scatter', data: g.discOut.map(function (v) { return { x: 2, y: v }; }), pointRadius: 3.2, backgroundColor: '#5a8fd2', borderColor: '#1e2e44', borderWidth: 0.8 },
    { type: 'scatter', data: dotRows(1, g.ctrlLv, g.ctrlN), pointRadius: 1.4, backgroundColor: '#fff', borderColor: '#7a7a7a', borderWidth: 0.7 },
    { type: 'scatter', data: dotRows(2, g.discLv, g.discN), pointRadius: 1.3, backgroundColor: '#56789f', borderColor: '#1d2f48', borderWidth: 0.6 }
  ];
  new Chart(L.cv, {
    type: 'bar',
    data: { datasets: ds },
    options: {
      layout: { padding: L.padding },
      scales: {
        x: axis({ min: 0.4, max: 2.6, ticks: [1, 2], size: L.xH, rot: 45, font: 10, pad: 1,
          fmt: function (v) { return groupNames[v - 1]; } }),
        y: axis({ min: g.min, max: g.max, ticks: g.ticks, size: L.yW, title: g.name, pad: 2, fmt: g.fmt })
      }
    },
    plugins: [framePlugin, starsPlugin]
  });
}

boxPlot('cD1', [387, 5, 121, 270], [426, 16, 503, 219], { name: 'vWF', min: -12, max: 5.4, ticks: vwfTicks,
  ctrlLv: vwfCtrlLevels, ctrlN: vwfCtrlCounts, ctrlOut: vwfCtrlOut, ctrlBox: vwfCtrlBox,
  discLv: vwfDiscLevels, discN: vwfDiscCounts, discOut: vwfDiscOut, discBox: vwfDiscBox });
boxPlot('cD2', [520, 3, 121, 272], [559, 13, 636, 219], { name: 'APOC1', min: -13, max: 2.66, ticks: apoc1Ticks,
  ctrlLv: apoc1CtrlLevels, ctrlN: apoc1CtrlCounts, ctrlOut: apoc1CtrlOut, ctrlBox: apoc1CtrlBox,
  discLv: apoc1DiscLevels, discN: apoc1DiscCounts, discOut: apoc1DiscOut, discBox: apoc1DiscBox });
boxPlot('cD3', [653, 5, 114, 270], [682, 17, 762, 218], { name: 'APOC3', min: -12.2, max: 4.16, ticks: apoc3Ticks,
  ctrlLv: apoc3CtrlLevels, ctrlN: apoc3CtrlCounts, ctrlOut: apoc3CtrlOut, ctrlBox: apoc3CtrlBox,
  discLv: apoc3DiscLevels, discN: apoc3DiscCounts, discOut: apoc3DiscOut, discBox: apoc3DiscBox });
boxPlot('cD4', [423, 292, 123, 278], [467, 304, 541, 508], { name: 'FAH', min: -9.5, max: 1.5, ticks: fahTicks,
  fmt: function (v) { return minus(v.toFixed(1)); },
  ctrlLv: fahCtrlLevels, ctrlN: fahCtrlCounts, ctrlOut: fahCtrlOut, ctrlBox: fahCtrlBox,
  discLv: fahDiscLevels, discN: fahDiscCounts, discOut: fahDiscOut, discBox: fahDiscBox });
boxPlot('cD5', [586, 292, 123, 278], [628, 304, 704, 508], { name: 'ALDOB', min: -12.8, max: 7.3, ticks: aldobTicks,
  ctrlLv: aldobCtrlLevels, ctrlN: aldobCtrlCounts, ctrlOut: aldobCtrlOut, ctrlBox: aldobCtrlBox,
  discLv: aldobDiscLevels, discN: aldobDiscCounts, discOut: aldobDiscOut, discBox: aldobDiscBox });
</script>
</body>
</html>
